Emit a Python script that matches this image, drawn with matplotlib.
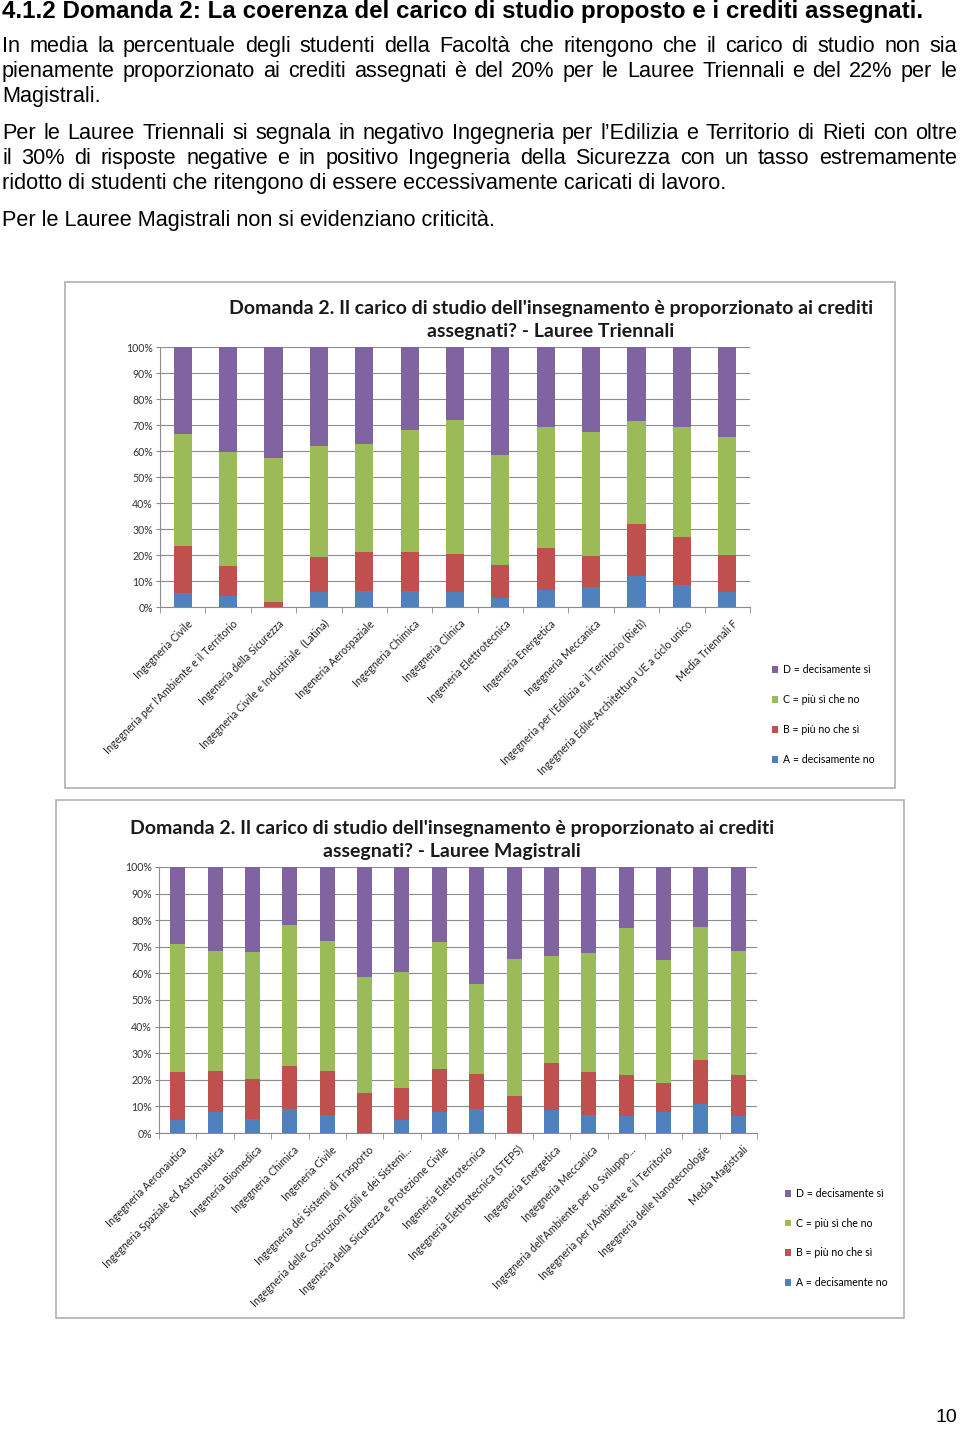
import matplotlib
matplotlib.use('Agg')
import matplotlib.pyplot as plt
from matplotlib.patches import Rectangle, Patch
from matplotlib.ticker import FixedLocator

W, H = 960, 1429

# --- dati: Lauree Triennali ---
corsi_tri = ["Ingegneria Civile", "Ingegneria per l'Ambiente e il Territorio",
             "Ingeneria della Sicurezza", "Ingegneria Civile e Industriale  (Latina)",
             "Ingeneria Aerospaziale", "Ingegneria Chimica", "Ingegneria Clinica",
             "Ingeneria Elettrotecnica", "Ingeneria Energetica", "Ingegneria Meccanica",
             "Ingegneria per l'Edilizia e il Territorio (Rieti)",
             "Ingegneria Edile-Architettura UE a ciclo unico", "Media Triennali F"]
tri_A = [5.4, 4.1, 0.0, 5.6, 6.0, 6.0, 5.9, 3.3, 6.4, 7.7, 12.1, 8.6, 5.9]
tri_B = [17.9, 11.5, 2.0, 13.8, 15.2, 15.2, 14.6, 12.8, 16.2, 12.1, 19.9, 18.4, 14.2]
tri_C = [43.2, 44.1, 55.3, 42.6, 41.6, 47.0, 51.6, 42.2, 46.8, 47.7, 39.7, 42.4, 45.4]
tri_D = [33.5, 40.3, 42.7, 38.0, 37.2, 31.8, 27.9, 41.7, 30.6, 32.5, 28.3, 30.6, 34.5]

# --- dati: Lauree Magistrali ---
corsi_mag = ["Ingegneria Aeronautica", "Ingegneria Spaziale ed Astronautica",
             "Ingeneria Biomedica", "Ingegneria Chimica", "Ingeneria Civile",
             "Ingegneria dei Sistemi di Trasporto",
             "Ingegneria delle Costruzioni Edili e dei Sistemi...",
             "Ingeneria della Sicurezza e Protezione Civile", "Ingeneria Elettrotecnica",
             "Ingegneria Elettrotecnica (STEPS)", "Ingegneria Energetica",
             "Ingegneria Meccanica", "Ingegneria dell'Ambiente per lo Sviluppo...",
             "Ingegneria per l'Ambiente e il Territorio", "Ingegneria delle Nanotecnologie",
             "Media Magistrali"]
mag_A = [4.8, 8.0, 5.3, 9.0, 6.8, 0.0, 5.0, 8.0, 9.1, 0.0, 8.5, 6.6, 6.5, 7.8, 11.0, 6.5]
mag_B = [18.1, 15.2, 15.1, 16.1, 16.4, 15.0, 12.0, 16.1, 13.1, 13.8, 17.7, 16.5, 15.2, 11.0, 16.3, 15.2]
mag_C = [48.3, 45.1, 47.8, 53.2, 49.1, 43.5, 43.4, 47.6, 33.9, 51.6, 40.2, 44.4, 55.4, 46.1, 50.0, 46.6]
mag_D = [28.8, 31.7, 31.8, 21.7, 27.7, 41.5, 39.6, 28.3, 43.9, 34.6, 33.6, 32.5, 22.9, 35.1, 22.7, 31.7]

risposte = ["A = decisamente no", "B = più no che sì", "C = più sì che no", "D = decisamente sì"]
colori = ["#4F81BD", "#C0504D", "#9BBB59", "#8064A2"]

titolo_tri = "Domanda 2. Il carico di studio dell'insegnamento è proporzionato ai crediti\nassegnati? - Lauree Triennali"
titolo_mag = "Domanda 2. Il carico di studio dell'insegnamento è proporzionato ai crediti\nassegnati? - Lauree Magistrali"

righe_p1 = ["In media la percentuale degli studenti della Facoltà che ritengono che il carico di studio non sia",
            "pienamente proporzionato ai crediti assegnati è del 20% per le Lauree Triennali e del 22% per le",
            "Magistrali."]
righe_p2 = ["Per le Lauree Triennali si segnala in negativo Ingegneria per l’Edilizia e Territorio di Rieti con oltre",
            "il 30% di risposte negative e in positivo Ingegneria della Sicurezza con un tasso estremamente",
            "ridotto di studenti che ritengono di essere eccessivamente caricati di lavoro."]
righe_p3 = ["Per le Lauree Magistrali non si evidenziano criticità."]

CHART_FONT = ['Lato', 'DejaVu Sans']
TEXT_FONT = ['Liberation Sans', 'DejaVu Sans']


def rect_px(l, t, r, b):
    return [l / W, 1 - b / H, (r - l) / W, (b - t) / H]


def riga(fig, renderer, testo, y, justify, size=15.6):
    words = testo.split(' ')
    if not justify:
        fig.text(2 / W, 1 - y / H, testo, fontsize=size, family=TEXT_FONT, va='baseline')
        return
    tt = [fig.text(0, 1 - y / H, w, fontsize=size, family=TEXT_FONT, va='baseline') for w in words]
    widths = [t.get_window_extent(renderer).width for t in tt]
    gap = (957 - 2 - sum(widths)) / (len(words) - 1)
    x = 2
    for t, w in zip(tt, widths):
        t.set_x(x / W)
        x += w + gap


def grafico(fig, box, ax_px, nomi, serie, titolo, title_pos, leg_px, leg_space):
    l, t, r, b = box
    fig.patches.append(Rectangle((l / W, 1 - b / H), (r - l) / W, (b - t) / H,
                                 transform=fig.transFigure, fill=False,
                                 edgecolor='#B0B0B0', linewidth=1.2))
    ax = fig.add_axes(rect_px(*ax_px))
    x = range(len(nomi))
    bottom = [0] * len(nomi)
    for vals, col, lab in zip(serie, colori, risposte):
        ax.bar(x, vals, bottom=bottom, width=0.4, color=col, label=lab, zorder=3)
        bottom = [bb + v for bb, v in zip(bottom, vals)]
    ax.set_xlim(-0.5, len(nomi) - 0.5)
    ax.set_ylim(0, 100)
    ax.set_yticks(range(0, 101, 10))
    ax.set_yticklabels([f"{v}%" for v in range(0, 101, 10)], fontsize=7.6, family=CHART_FONT,
                       color='#333333')
    ax.yaxis.grid(True, color='#8C8C8C', linewidth=0.8, zorder=0)
    ax.tick_params(axis='y', length=3, color='#8C8C8C', pad=2)
    ax.set_xticks([i + 0.1 for i in x])
    ax.set_xticklabels(nomi, rotation=45, ha='right', rotation_mode='anchor',
                       fontsize=7.7, family=CHART_FONT, color='#222222')
    ax.tick_params(axis='x', which='major', length=0, pad=8)
    ax.xaxis.set_minor_locator(FixedLocator([i + 0.5 for i in range(-1, len(nomi))]))
    ax.tick_params(axis='x', which='minor', length=4, color='#8C8C8C')
    for s in ['top', 'right']:
        ax.spines[s].set_visible(False)
    for s in ['left', 'bottom']:
        ax.spines[s].set_color('#8C8C8C')
        ax.spines[s].set_linewidth(0.8)
    ax.set_facecolor('none')
    fig.text(title_pos[0] / W, 1 - title_pos[1] / H, titolo, ha='center', va='center',
             fontsize=14, fontweight='bold', family=CHART_FONT, color='#1a1a1a',
             linespacing=1.45)
    handles = [Patch(facecolor=c) for c in colori][::-1]
    fig.legend(handles, risposte[::-1], loc='upper left',
               bbox_to_anchor=(leg_px[0] / W, 1 - leg_px[1] / H), frameon=False,
               prop={'family': CHART_FONT, 'size': 7.6}, handlelength=0.6,
               handleheight=0.6, handletextpad=0.4, labelspacing=leg_space,
               borderpad=0, borderaxespad=0)
    return ax


fig = plt.figure(figsize=(W / 100, H / 100), dpi=100)
renderer = fig.canvas.get_renderer()

fig.text(2 / W, 1 - 18 / H,
         "4.1.2 Domanda 2: La coerenza del carico di studio proposto e i crediti assegnati.",
         fontsize=17.4, fontweight='bold', family=TEXT_FONT, va='baseline')

ys = [52, 77, 102]
for i, tx in enumerate(righe_p1):
    riga(fig, renderer, tx, ys[i], i < 2)
ys = [139, 164, 189]
for i, tx in enumerate(righe_p2):
    riga(fig, renderer, tx, ys[i], i < 2)
riga(fig, renderer, righe_p3[0], 226, False)

grafico(fig, (65, 282, 895, 788), (160, 347, 750, 607), corsi_tri,
        [tri_A, tri_B, tri_C, tri_D], titolo_tri, (551, 320), (772, 664), 1.8)
grafico(fig, (56, 800, 904, 1318), (159, 867, 757, 1133), corsi_mag,
        [mag_A, mag_B, mag_C, mag_D], titolo_mag, (452, 840), (785, 1188), 1.77)

fig.text(946 / W, 1 - 1418 / H, "10", fontsize=14, family=TEXT_FONT, ha='center', va='center')

fig.savefig('out.png', dpi=100, facecolor='white')
